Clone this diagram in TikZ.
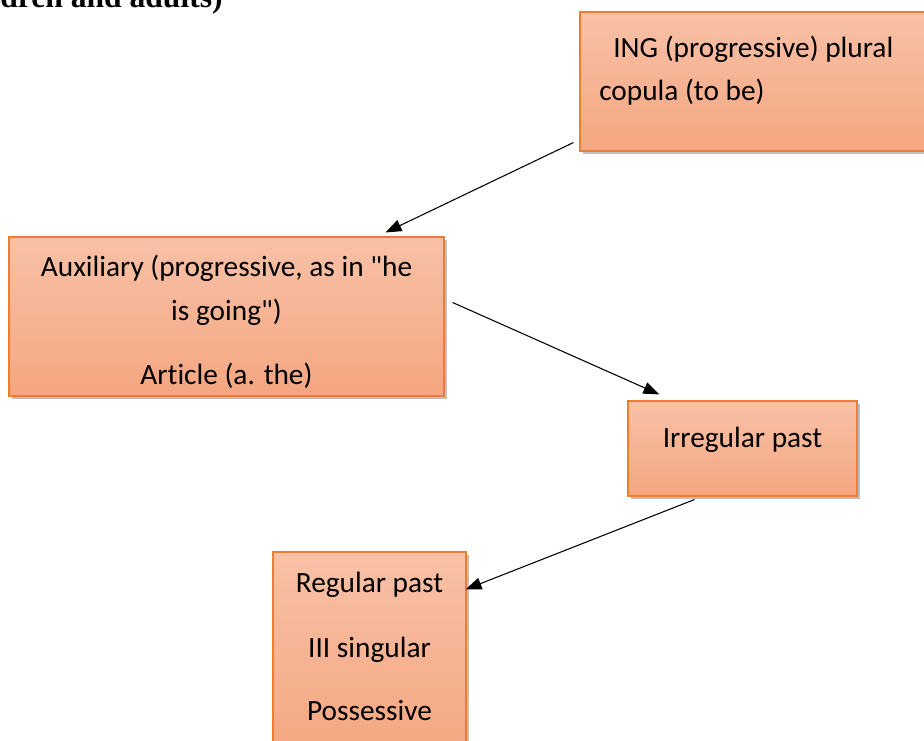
\documentclass[tikz,border=0pt]{standalone}
\usepackage{fontspec}
\setmainfont{Carlito}[Ligatures=CommonOff]
\newfontfamily\headfont{Liberation Serif}
\usetikzlibrary{arrows.meta,shadows}

\definecolor{boxtop}{RGB}{248,193,167}
\definecolor{boxbottom}{RGB}{244,166,128}
\definecolor{boxedge}{RGB}{237,125,49}

\tikzset{
  salmonbox/.style={rectangle, draw=boxedge, line width=0.8pt, top color=boxtop, bottom color=boxbottom,
    drop shadow={shadow xshift=2.5pt, shadow yshift=-2.5pt, fill=black, opacity=0.25}},
  boxtext/.style={inner sep=0pt, font=\fontsize{22}{26}\selectfont},
  link/.style={line width=0.8pt, -{Triangle[length=12pt,width=9pt]}}
}

\begin{document}
\begin{tikzpicture}[x=0.75pt,y=0.75pt,yscale=-1,xscale=1]
        \useasboundingbox (0,0) rectangle (924,740);
        \clip (0,0) rectangle (924,740);

        % cut-off heading
        \node[inner sep=0pt, anchor=base west, font=\headfont\bfseries\fontsize{23.7}{28}\selectfont] (head) at (0,7) {dren and adults)};

        % Boxes
        \node[salmonbox, minimum width=346*0.75pt, minimum height=139*0.75pt] (ing) at (753,81.5) {};
        \node[salmonbox, minimum width=435*0.75pt, minimum height=159*0.75pt] (aux) at (226.5,316.5) {};
        \node[salmonbox, minimum width=229*0.75pt, minimum height=95*0.75pt] (irr) at (742.5,448.5) {};
        \node[salmonbox, minimum width=193*0.75pt, minimum height=208*0.75pt] (reg) at (369.5,656) {};

        % Text Nodes
        \node[boxtext, anchor=base west] (ing1) at (613,57) {ING (progressive) plural};
        \node[boxtext, anchor=base west] (ing2) at (599,100) {copula (to be)};

        \node[boxtext, anchor=base] (aux1) at (226.5,276) {Auxiliary (progressive, as in \textquotedbl he};
        \node[boxtext, anchor=base] (aux2) at (226.5,320) {is going\textquotedbl)};
        \node[boxtext, anchor=base] (aux3) at (226.5,384) {Article (a. the)};

        \node[boxtext, anchor=base] (irr1) at (742.5,447) {Irregular past};

        \node[boxtext, anchor=base] (reg1) at (369.5,592) {Regular past};
        \node[boxtext, anchor=base] (reg2) at (369.5,657) {III singular};
        \node[boxtext, anchor=base] (reg3) at (369.5,720) {Possessive};

        % Arrows
        \draw[link] ([shift={(-6,-9)}]ing.south west) -- ([shift={(-59,-4)}]aux.north east);
        \draw[link] ([shift={(8,66)}]aux.north east) -- ([shift={(32,-6)}]irr.north west);
        \draw[link] ([shift={(67,3)}]irr.south west) -- ([shift={(-1,38)}]reg.north east);

\end{tikzpicture}
\end{document}
